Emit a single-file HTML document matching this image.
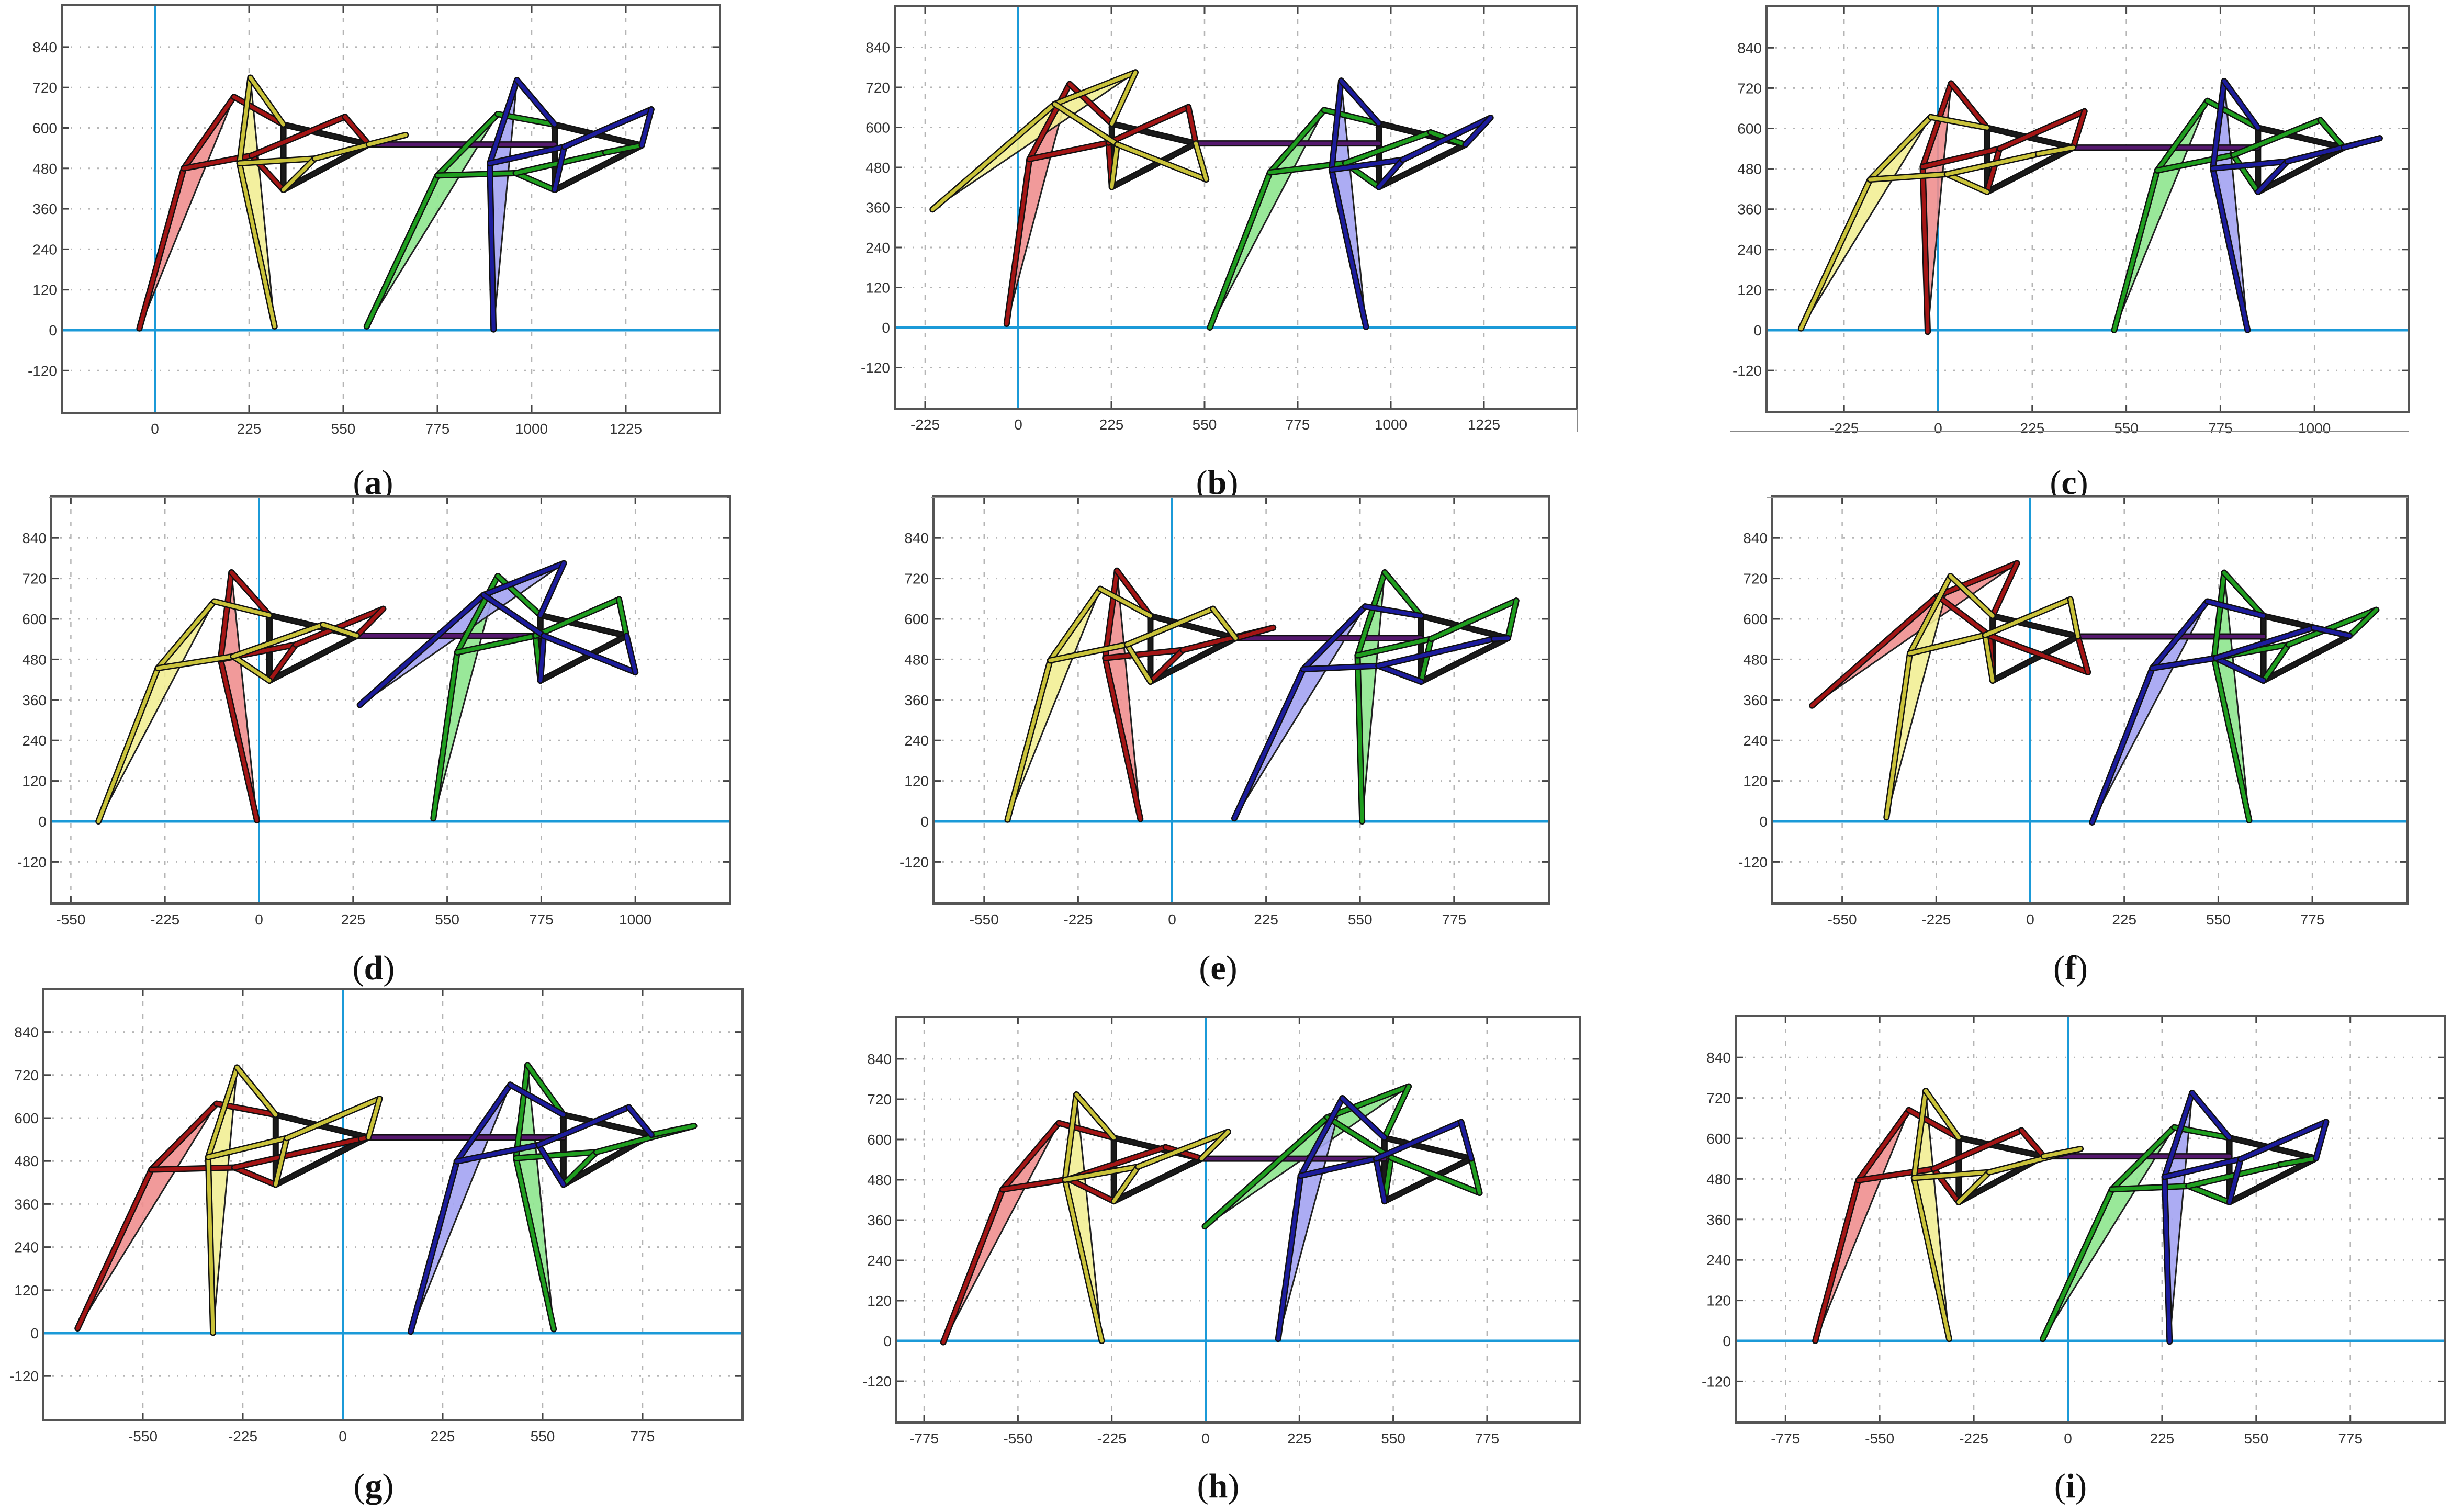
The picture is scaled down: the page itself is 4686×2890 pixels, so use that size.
<!DOCTYPE html>
<html><head><meta charset="utf-8"><title>Linkage gait panels</title>
<style>
html,body{margin:0;padding:0;background:#fff;}
svg{display:block;}
text{font-family:"Liberation Sans",sans-serif;}
.lbl{font-family:"Liberation Serif",serif;}
</style></head>
<body>
<svg id="fig" xmlns="http://www.w3.org/2000/svg" width="4686" height="2890" viewBox="0 0 4686 2890">
<rect x="0" y="0" width="4686" height="2890" fill="#ffffff"/>
</svg>
<script>
// ---- data (units: y in mm, x in nominal axis units of 225 per grid step) ----
const panelIds = ['a','b','c','d','e','f','g','h','i'];
const yTickValues = [-120,0,120,240,360,480,600,720,840];
const xTickLabelsA = ['0','225','550','775','1000','1225'];
const xTickLabelsB = ['-225','0','225','550','775','1000','1225'];
const xTickLabelsC = ['-225','0','225','550','775','1000'];
const xTickLabelsD = ['-550','-225','0','225','550','775','1000'];
const xTickLabelsEFG = ['-550','-225','0','225','550','775'];
const xTickLabelsHI = ['-775','-550','-225','0','225','550','775'];
const xTickFirstIndex = [0,-1,-1,-2,-2,-2,-2,-3,-3];
// legs: [Gx,Gy, Fx,Fy, Ex,Ey, Jx,Jy, Ax,Ay] per panel
const redLegs = [
 [-37,5, 69,480, 189,692, 231,518, 454,633],
 [-28,11, 27,505, 124,730, 218,554, 411,661],
 [-25,-5, -37,486, 31,734, 147,540, 350,651],
 [-5,3, -92,480, -66,738, 88,524, 297,630],
 [-76,7, -160,484, -132,743, 26,508, 242,574],
 [-522,343, -222,668, -32,765, -96,550, 138,442],
 [-597,13, -431,456, -284,640, -244,462, 41,542],
 [-629,-4, -487,451, -352,649, -328,482, -96,577],
 [-604,0, -501,476, -380,684, -321,510, -111,624]];
const yellowLegs = [
 [286,11, 202,495, 228,749, 382,509, 599,579],
 [-207,354, 88,670, 283,765, 239,549, 454,444],
 [-328,5, -163,448, -18,634, 21,464, 239,524],
 [-384,0, -242,454, -107,652, -62,489, 153,583],
 [-394,5, -292,477, -172,689, -108,524, 98,630],
 [-344,12, -288,498, -191,727, -108,552, 96,658],
 [-292,1, -303,491, -238,741, -126,544, 83,654],
 [-249,0, -337,480, -310,734, -162,519, 54,623],
 [-284,6, -368,483, -340,741, -188,500, 30,569]];
const greenLegs = [
 [506,11, 675,459, 819,641, 862,466, 1076,527],
 [463,0, 608,465, 739,652, 790,493, 996,585],
 [421,0, 524,475, 644,682, 706,521, 914,625],
 [417,9, 474,501, 571,727, 661,550, 861,658],
 [455,0, 444,492, 509,738, 620,541, 824,654],
 [524,3, 440,484, 464,737, 618,524, 828,627],
 [475,11, 390,488, 416,748, 571,505, 791,578],
 [-2,341, 292,666, 487,758, 445,546, 657,441],
 [-60,6, 105,449, 254,633, 288,459, 509,523]];
const blueLegs = [
 [809,2, 800,495, 865,742, 978,544, 1186,655],
 [840,2, 757,473, 780,740, 929,503, 1141,629],
 [740,0, 657,481, 684,741, 835,502, 1056,571],
 [241,345, 537,671, 729,765, 681,550, 900,442],
 [149,9, 314,451, 462,637, 494,461, 770,541],
 [148,-3, 292,454, 424,652, 444,484, 678,574],
 [153,4, 257,479, 377,693, 441,525, 644,630],
 [174,6, 228,492, 328,723, 409,543, 613,652],
 [243,-2, 231,486, 297,735, 413,539, 617,649]];
// frames: [Ox,Oy, Px, P1y, P2y]
const leftFrames = [
 [511,551, 307,610,416],[429,552, 226,611,421],[323,543, 117,602,411],
 [234,550, 25,611,417],[152,543, -52,609,414],[114,548, -90,609,417],
 [58,546, -151,609,414],[-10,543, -220,605,416],[-58,547, -261,602,411]];
const rightFrames = [
 [1163,548, 955,610,416],[1080,548, 871,612,421],[970,543, 765,602,411],
 [879,550, 673,611,417],[804,543, 596,609,414],[764,550, 558,609,417],
 [695,553, 497,609,414],[637,543, 429,605,416],[593,541, 386,602,411]];

// ---- layout (pixel geometry, not data) ----
const layout = [
 {L:118,T:10,R:1376,B:789,x0:296,xs:180,y0:631,ys:77.3,lx:713,ly:944},
 {L:1710,T:12,R:3014,B:781,x0:1946,xs:178,y0:626,ys:76.5,lx:2326,ly:944},
 {L:3376,T:12,R:4604,B:788,x0:3704,xs:179.8,y0:631,ys:77.1,lx:3954,ly:944},
 {L:98,T:949,R:1395,B:1727,x0:495,xs:179.8,y0:1570,ys:77.4,lx:714,ly:1872},
 {L:1784,T:949,R:2960,B:1727,x0:2240,xs:179.6,y0:1570,ys:77.4,lx:2328,ly:1872},
 {L:3387,T:949,R:4601,B:1727,x0:3880,xs:179.7,y0:1570,ys:77.4,lx:3957,ly:1872},
 {L:83,T:1890,R:1419,B:2715,x0:655,xs:191,y0:2548,ys:82.2,lx:714,ly:2862},
 {L:1713,T:1944,R:3020,B:2719,x0:2304,xs:179.3,y0:2563,ys:77.0,lx:2328,ly:2862},
 {L:3317,T:1942,R:4673,B:2719,x0:3952,xs:179.9,y0:2563,ys:77.4,lx:3957,ly:2862}];
const tickLabelSets = [xTickLabelsA,xTickLabelsB,xTickLabelsC,xTickLabelsD,xTickLabelsEFG,xTickLabelsEFG,xTickLabelsEFG,xTickLabelsHI,xTickLabelsHI];

const NS='http://www.w3.org/2000/svg';
const svg=document.getElementById('fig');
function mk(tag,parent,attrs){const e=document.createElementNS(NS,tag);for(const k in attrs)e.setAttribute(k,attrs[k]);parent.appendChild(e);return e;}

function drawLink(g,x1,y1,x2,y2,col,name){
  const o=mk('line',g,{x1:x1,y1:y1,x2:x2,y2:y2,stroke:'#111',"stroke-width":12,"stroke-linecap":'round'});
  
  
  const c=mk('line',g,{x1:x1,y1:y1,x2:x2,y2:y2,stroke:col,"stroke-width":7,"stroke-linecap":'round'});
  
  
}

const legStyles=[
 {arr:redLegs,col:'#a31515',fill:'#ef8f8f',name:'red-leg',frame:0},
 {arr:yellowLegs,col:'#c9c23a',fill:'#f2ee95',name:'yellow-leg',frame:0},
 {arr:greenLegs,col:'#1f9e1f',fill:'#8ee68e',name:'green-leg',frame:1},
 {arr:blueLegs,col:'#1c1c9c',fill:'#a3a3f2',name:'blue-leg',frame:1}];

panelIds.forEach(function(id,p){
  const Lc=layout[p];
  const X=function(v){return Lc.x0+v/225*Lc.xs;};
  const Y=function(v){return Lc.y0-v/120*Lc.ys;};
  const g=mk('g',svg,{});
  
  
  const bg=mk('rect',g,{x:Lc.L,y:Lc.T,width:Lc.R-Lc.L,height:Lc.B-Lc.T,fill:'#fff'});
  
  
  const labs=tickLabelSets[p];
  for(let k=-5;k<9;k++){
    const x=Lc.x0+k*Lc.xs;
    if(x<Lc.L+6||x>Lc.R-6)continue;
    const gl=mk('line',g,{x1:x,y1:Lc.T,x2:x,y2:Lc.B,stroke:'#b5b5b5',"stroke-width":2.5,"stroke-dasharray":'9,15'});
    
    
    const t1=mk('line',g,{x1:x,y1:Lc.B,x2:x,y2:Lc.B-14,stroke:'#444',"stroke-width":3});
    
    
    const t2=mk('line',g,{x1:x,y1:Lc.T,x2:x,y2:Lc.T+14,stroke:'#444',"stroke-width":3});
    
    
  }
  labs.forEach(function(s,i){
    const x=Lc.x0+(xTickFirstIndex[p]+i)*Lc.xs;
    const t=mk('text',g,{x:x,y:Lc.B+40,"text-anchor":'middle',"font-size":28,fill:'#333'});
    t.textContent=s;
    
    
  });
  yTickValues.forEach(function(v){
    const y=Y(v);
    const gl=mk('line',g,{x1:Lc.L,y1:y,x2:Lc.R,y2:y,stroke:'#b5b5b5',"stroke-width":3,"stroke-dasharray":'3,14'});
    
    
    const t1=mk('line',g,{x1:Lc.L,y1:y,x2:Lc.L+14,y2:y,stroke:'#444',"stroke-width":3});
    
    
    const t2=mk('line',g,{x1:Lc.R,y1:y,x2:Lc.R-14,y2:y,stroke:'#444',"stroke-width":3});
    
    
    const t=mk('text',g,{x:Lc.L-9,y:y+10,"text-anchor":'end',"font-size":28,fill:'#333'});
    t.textContent=String(v);
    
    
  });
  const ax=mk('line',g,{x1:Lc.L,y1:Y(0),x2:Lc.R,y2:Y(0),stroke:'#1b9ad8',"stroke-width":5});
  
  
  const ay=mk('line',g,{x1:X(0),y1:Lc.T,x2:X(0),y2:Lc.B,stroke:'#1b9ad8',"stroke-width":4});
  
  
  legStyles.forEach(function(st){
    const d=st.arr[p];
    const pg=mk('polygon',g,{points:[X(d[0]),Y(d[1]),X(d[2]),Y(d[3]),X(d[4]),Y(d[5])].join(' '),fill:st.fill,"fill-opacity":0.9,stroke:'#222',"stroke-width":3});
    
    
  });
  const lf=leftFrames[p], rf=rightFrames[p];
  [lf,rf].forEach(function(f,fi){
    const nm=fi===0?'front-frame':'rear-frame';
    drawLink(g,X(f[2]),Y(f[3]),X(f[2]),Y(f[4]),'#1a1a1a',nm+'-bar');
    drawLink(g,X(f[2]),Y(f[3]),X(f[0]),Y(f[1]),'#1a1a1a',nm+'-upper');
    drawLink(g,X(f[2]),Y(f[4]),X(f[0]),Y(f[1]),'#1a1a1a',nm+'-lower');
  });
  drawLink(g,X(lf[0]),Y(lf[1]),X(rf[2]),Y(lf[1]),'#55186e','connecting-rod');
  legStyles.forEach(function(st){
    const d=st.arr[p];
    const f=st.frame===0?lf:rf;
    const G=[X(d[0]),Y(d[1])],F=[X(d[2]),Y(d[3])],E=[X(d[4]),Y(d[5])],J=[X(d[6]),Y(d[7])],A=[X(d[8]),Y(d[9])];
    const O=[X(f[0]),Y(f[1])],P1=[X(f[2]),Y(f[3])],P2=[X(f[2]),Y(f[4])];
    drawLink(g,G[0],G[1],F[0],F[1],st.col,st.name+'-shin');
    drawLink(g,F[0],F[1],E[0],E[1],st.col,st.name+'-thigh');
    drawLink(g,E[0],E[1],P1[0],P1[1],st.col,st.name+'-upper-link');
    drawLink(g,F[0],F[1],J[0],J[1],st.col,st.name+'-knee-link');
    drawLink(g,J[0],J[1],P2[0],P2[1],st.col,st.name+'-lower-link');
    drawLink(g,J[0],J[1],A[0],A[1],st.col,st.name+'-crank-link');
    drawLink(g,A[0],A[1],O[0],O[1],st.col,st.name+'-crank');
  });
  const bx=mk('rect',g,{x:Lc.L,y:Lc.T,width:Lc.R-Lc.L,height:Lc.B-Lc.T,fill:'none',stroke:'#555',"stroke-width":4});
  
  
  const lt=mk('text',g,{x:Lc.lx,y:Lc.ly,"text-anchor":'middle',"font-size":66,fill:'#111',class:'lbl'});
  lt.innerHTML='(<tspan font-weight="bold">'+id+'</tspan>)';
  
  
});
[[93,1390],[1780,2958],[3376,4601]].forEach(function(s){
  const l=mk('line',svg,{x1:s[0],y1:950,x2:s[1],y2:950,stroke:'#999',"stroke-width":2});
  
  
});
const sx1=mk('line',svg,{x1:3014,y1:781,x2:3014,y2:825,stroke:'#888',"stroke-width":2});


const sx2=mk('line',svg,{x1:3307,y1:825,x2:4604,y2:825,stroke:'#888',"stroke-width":2});


</script>
</body></html>
